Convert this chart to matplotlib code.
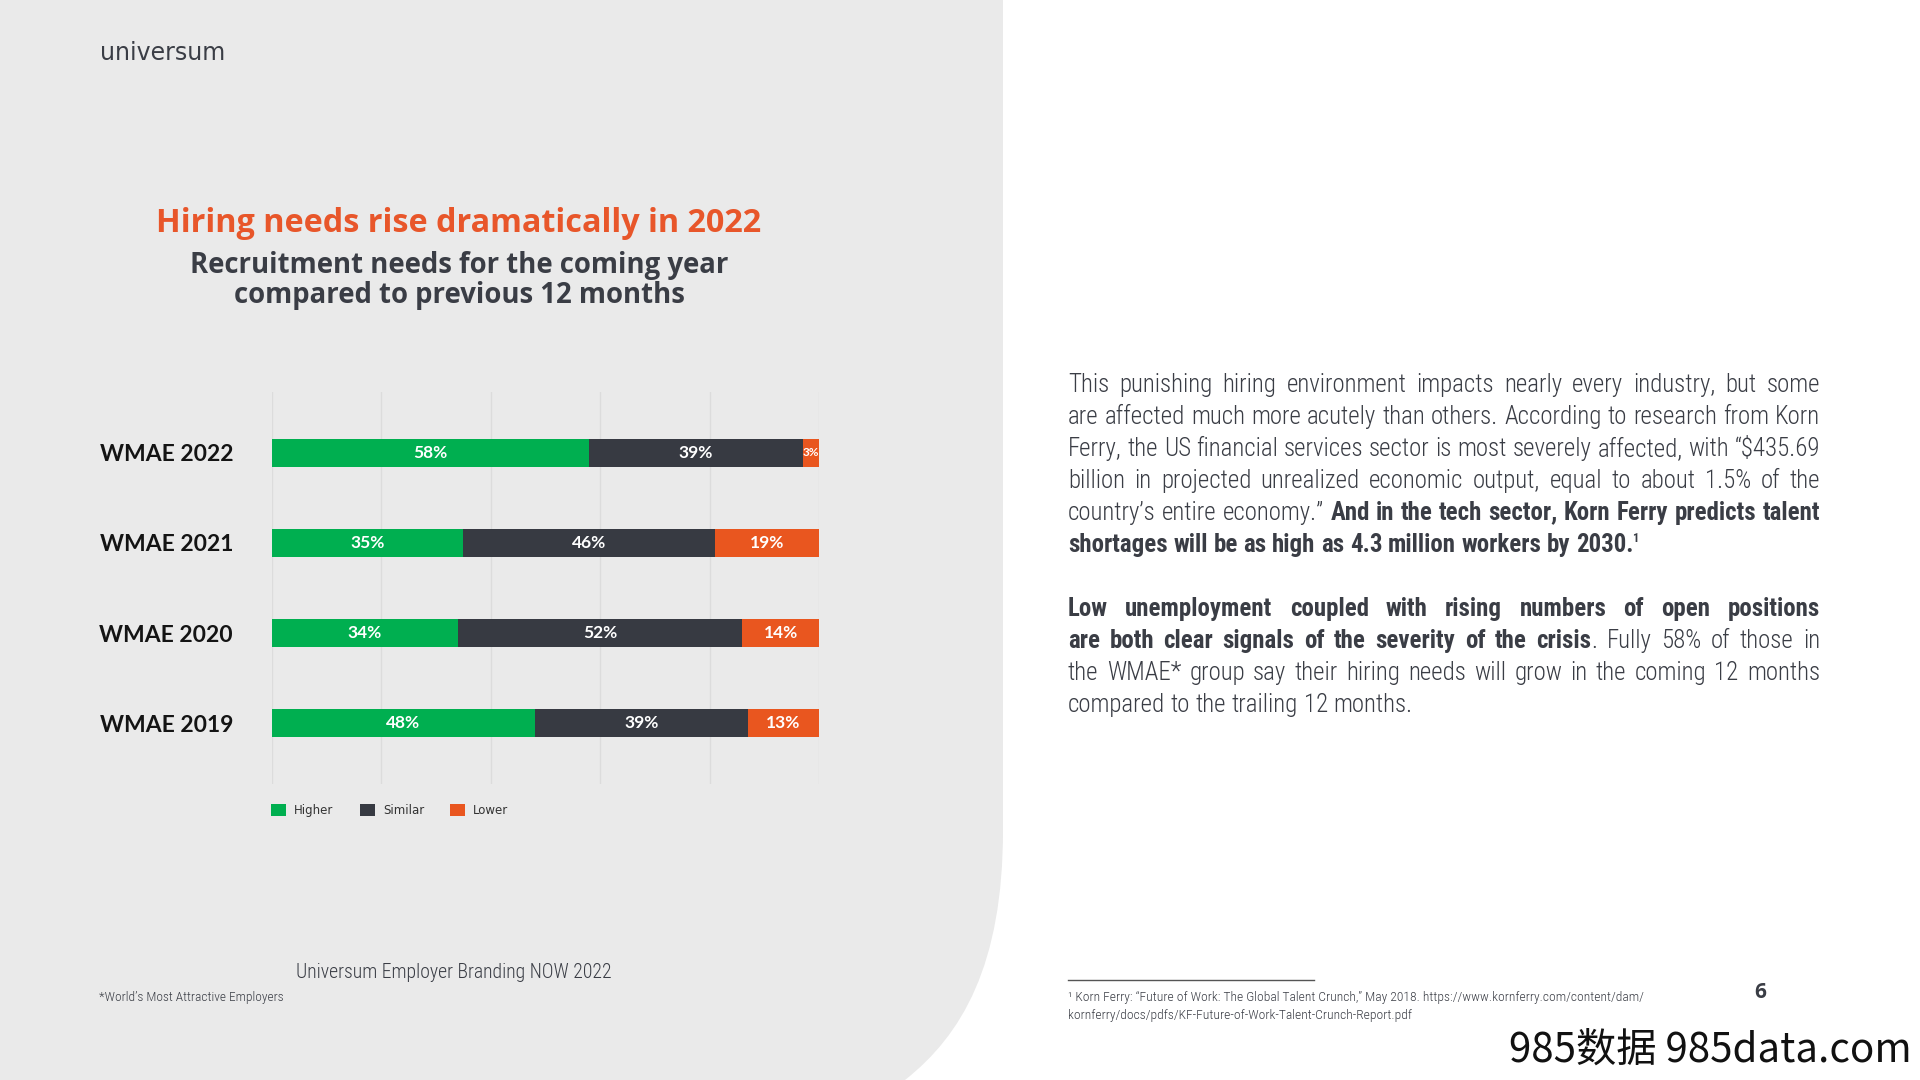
import matplotlib
matplotlib.use('Agg')
import matplotlib.pyplot as plt
import matplotlib.transforms as mtransforms
from matplotlib.patches import Patch, PathPatch
from matplotlib.path import Path
from matplotlib import font_manager
import numpy as np

# ---------------- data ----------------
categories = ['WMAE 2022', 'WMAE 2021', 'WMAE 2020', 'WMAE 2019']
series_names = ['Higher', 'Similar', 'Lower']
higher = [58, 35, 34, 48]
similar = [39, 46, 52, 39]
lower = [3, 19, 14, 13]
grid_ticks = [0, 20, 40, 60, 80, 100]

title = 'Hiring needs rise dramatically in 2022'
subtitle_lines = ['Recruitment needs for the coming year', 'compared to previous 12 months']
source = 'Universum Employer Branding NOW 2022'
note = '*World\u2019s Most Attractive Employers'

# ---------------- setup ----------------
W, H = 1920, 1080
fig = plt.figure(figsize=(19.2, 10.8), dpi=100)
fig.patch.set_facecolor('white')
PX = mtransforms.Affine2D().scale(1 / W, -1 / H).translate(0, 1) + fig.transFigure

available = {f.name for f in font_manager.fontManager.ttflist}
def pick(*names):
    for n in names:
        if n in available:
            return n
    return 'DejaVu Sans'

NARROW = pick('Roboto Condensed', 'Liberation Sans Narrow', 'Open Sans Condensed', 'Roboto', 'Lato')
HEAD = pick('Open Sans', 'Lato', 'Roboto')
LABEL = pick('Lato', 'Open Sans', 'Roboto')

GREEN = '#00AF50'
DARK = '#373A42'
ORANGE = '#E9561F'
TEXT = '#3A3D45'
BG = '#EAEAEA'

# left grey panel with rounded bottom-right edge
verts = [(0, 0), (1003, 0), (1003, 830), (1003, 965), (962, 1035), (905, 1080), (0, 1080), (0, 0)]
codes = [Path.MOVETO, Path.LINETO, Path.LINETO, Path.CURVE4, Path.CURVE4, Path.CURVE4,
         Path.LINETO, Path.CLOSEPOLY]
fig.add_artist(PathPatch(Path(verts, codes), transform=PX, facecolor=BG, edgecolor='none', zorder=0))

# logo
fig.text(100, 53, 'universum', transform=PX, fontsize=17, family='DejaVu Sans',
         color=TEXT, va='center', ha='left')

# titles
fig.text(459, 223, title, transform=PX, fontsize=23.3, family=HEAD, fontweight='bold',
         color='#E8562A', ha='center', va='center')
for yy, s in zip([265, 296], subtitle_lines):
    fig.text(459, yy, s, transform=PX, fontsize=19.8, family=HEAD, fontweight='bold',
             color=TEXT, ha='center', va='center')

# ---------------- chart ----------------
ax = fig.add_axes([272 / W, 1 - 784 / H, (819 - 272) / W, (784 - 392) / H])
ax.set_facecolor('none')
ypos = np.arange(len(categories))
bar_h = 0.31
lefts = np.zeros(len(categories))
series = [higher, similar, lower]
colors = [GREEN, DARK, ORANGE]
for name, vals, col in zip(series_names, series, colors):
    ax.barh(ypos, vals, left=lefts, height=bar_h, color=col, label=name, zorder=3)
    for y, l, v in zip(ypos, lefts, vals):
        ax.text(l + v / 2, y, f'{v}%', ha='center', va='center', color='white',
                fontsize=8.5 if v < 5 else 12.5, family=LABEL, fontweight='bold', zorder=4)
    lefts = lefts + np.array(vals)

ax.set_xlim(0, 100)
ax.set_ylim(len(categories) - 0.33, -0.67)
ax.set_xticks(grid_ticks)
ax.xaxis.grid(True, color='#DCDCDC', lw=1, zorder=0)
ax.tick_params(axis='x', length=0, labelbottom=False)
ax.set_yticks(ypos)
ax.set_yticklabels(categories, fontsize=16.5, family=LABEL, fontweight='bold', color='#141414')
ax.tick_params(axis='y', length=0, pad=28)
for s in ax.spines.values():
    s.set_visible(False)

handles = [Patch(facecolor=c, edgecolor='none', label=n) for n, c in zip(series_names, colors)]
ax.legend(handles=handles, loc='upper left', bbox_to_anchor=(271, 804), bbox_transform=PX,
          ncol=3, frameon=False, fontsize=8.5, borderpad=0, borderaxespad=0,
          handlelength=1.27, handleheight=1.2, handletextpad=0.7, columnspacing=2.2,
          labelcolor='#333333')

fig.text(454, 972, source, transform=PX, fontsize=14.2, family=NARROW, fontweight='light',
         color=TEXT, ha='center', va='center')
fig.text(99, 997, note, transform=PX, fontsize=9.6, family=NARROW, fontweight='light',
         color=TEXT, ha='left', va='center')

# ---------------- right text ----------------
renderer = fig.canvas.get_renderer()
X0, X1 = 1068, 1820

def tw(s, bold, fs):
    t = fig.text(0, 0, s, transform=PX, fontsize=fs, family=NARROW,
                 fontweight='bold' if bold else 'light')
    w = t.get_window_extent(renderer).width
    t.remove()
    return w

def word_runs(line):
    words = []
    pending_join = False
    for text, bold in line:
        parts = text.split(' ')
        for i, p in enumerate(parts):
            if p == '':
                pending_join = False
                continue
            if i == 0 and pending_join and words:
                words[-1].append((p, bold))
            else:
                words.append([(p, bold)])
            pending_join = True
        if text.endswith(' '):
            pending_join = False
    return words

lines = [
    ([('This punishing hiring environment impacts nearly every industry, but some', False)], True),
    ([('are affected much more acutely than others. According to research from Korn', False)], True),
    ([('Ferry, the US financial services sector is most severely affected, with \u201c$435.69', False)], True),
    ([('billion in projected unrealized economic output, equal to about 1.5% of the', False)], True),
    ([('country\u2019s entire economy.\u201d ', False), ('And in the tech sector, Korn Ferry predicts talent', True)], True),
    ([('shortages will be as high as 4.3 million workers by 2030.', True)], False),
    None,
    ([('Low unemployment coupled with rising numbers of open positions', True)], True),
    ([('are both clear signals of the severity of the crisis', True), ('. Fully 58% of those in', False)], True),
    ([('the WMAE* group say their hiring needs will grow in the coming 12 months', False)], True),
    ([('compared to the trailing 12 months.', False)], False),
]

fs = 16.5
def natural(line, fs):
    words = word_runs(line)
    sp = tw('a a', False, fs) - tw('aa', False, fs)
    return sum(tw(t, b, fs) for w in words for t, b in w) + sp * (len(words) - 1)
maxw = max(natural(l[0], fs) for l in lines if l is not None and l[1])
fs = min(fs * (X1 - X0) / maxw * 0.995, 20)

space = tw('a a', False, fs) - tw('aa', False, fs)
y = 385
for entry in lines:
    if entry is None:
        y += 32
        continue
    line, justify = entry
    words = word_runs(line)
    widths = [[tw(t, b, fs) for t, b in w] for w in words]
    total = sum(sum(ws) for ws in widths)
    gap = (X1 - X0 - total) / (len(words) - 1) if justify else space
    x = X0
    for w, ws in zip(words, widths):
        for (t, b), wd in zip(w, ws):
            fig.text(x, y, t, transform=PX, fontsize=fs, family=NARROW,
                     fontweight='bold' if b else 'light', color=TEXT, va='center', ha='left')
            x += wd
        x += gap
    last_end = x - gap
    if not justify and line[0][0].startswith('shortages'):
        fig.text(last_end - 2, y - 7, '1', transform=PX, fontsize=fs * 0.5, family=NARROW,
                 fontweight='bold', color=TEXT, va='center', ha='left')
    y += 32

# footnote
fig.add_artist(plt.Line2D([1068, 1314], [980, 980], transform=PX, color='#555555', lw=1))
fig.text(1068, 998, '\u00b9 Korn Ferry: \u201cFuture of Work: The Global Talent Crunch,\u201d May 2018. '
         'https://www.kornferry.com/content/dam/', transform=PX, fontsize=9.7, family=NARROW,
         fontweight='light', color=TEXT, va='center', ha='left')
fig.text(1068, 1015, 'kornferry/docs/pdfs/KF-Future-of-Work-Talent-Crunch-Report.pdf', transform=PX,
         fontsize=9.7, family=NARROW, fontweight='light', color=TEXT, va='center', ha='left')
fig.text(1760, 993, '6', transform=PX, fontsize=15, family=HEAD, fontweight='bold',
         color=TEXT, va='center', ha='center')

# watermark
fig.text(1912, 1050, '985数据 985data.com', transform=PX, fontsize=29,
         family=['Noto Sans CJK SC', 'DejaVu Sans'], color='#111111', va='center', ha='right')

fig.savefig('out.png', dpi=100, facecolor=fig.get_facecolor())
